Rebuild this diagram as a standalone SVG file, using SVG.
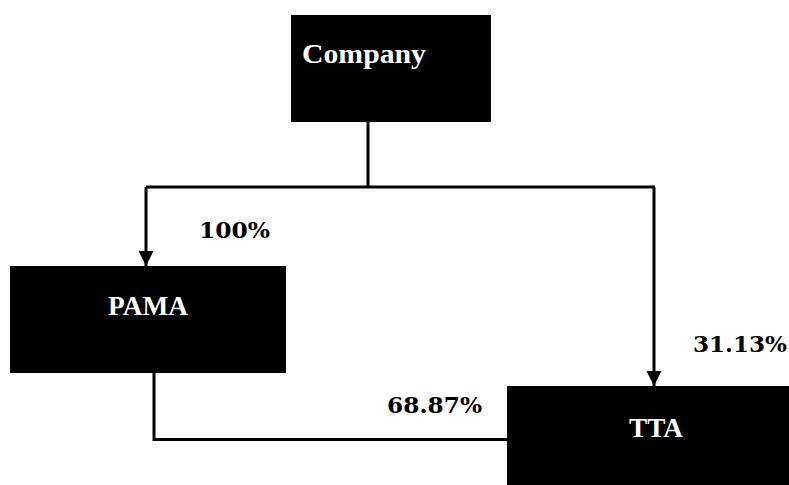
<svg xmlns="http://www.w3.org/2000/svg" width="789" height="485" viewBox="0 0 789 485">
<style>
.box{fill:#000;}
.nt{fill:#fff;font-family:"Liberation Serif","DejaVu Serif",serif;font-weight:bold;font-size:27px;}
.lb{fill:#000;font-family:"DejaVu Serif","Liberation Serif",serif;font-weight:bold;font-size:22px;}
.ln{fill:none;stroke:#000;stroke-width:3;}
</style>
<defs>
<marker id="ah" markerUnits="userSpaceOnUse" markerWidth="16" markerHeight="15" refX="15" refY="7.5" orient="auto">
<path d="M0,0 L15,7.5 L0,15 Z" fill="#000"/>
</marker>
</defs>
<rect width="789" height="485" fill="#fff"/>
<g id="connectors">
<path class="ln" d="M368,122 V187"/>
<path class="ln" d="M146,187 H655"/>
<path class="ln" d="M146,187 V266" marker-end="url(#ah)"/>
<path class="ln" d="M654,187 V386" marker-end="url(#ah)"/>
<path class="ln" d="M154,373 V439.5 H507"/>
</g>
<g id="company">
<rect class="box" x="291" y="15" width="200" height="107"/>
<text class="nt" x="302" y="63" font-size="30" textLength="124" lengthAdjust="spacingAndGlyphs">Company</text>
</g>
<g id="pama">
<rect class="box" x="10" y="266" width="276" height="107"/>
<text class="nt" x="148" y="315" font-size="26" text-anchor="middle" textLength="80" lengthAdjust="spacingAndGlyphs">PAMA</text>
</g>
<g id="tta">
<rect class="box" x="507" y="386" width="282" height="99"/>
<text class="nt" x="656" y="437" font-size="27" text-anchor="middle" textLength="54" lengthAdjust="spacingAndGlyphs">TTA</text>
</g>
<g id="labels">
<text class="lb" x="199" y="238" textLength="71" lengthAdjust="spacingAndGlyphs">100%</text>
<text class="lb" x="693" y="352" textLength="94" lengthAdjust="spacingAndGlyphs">31.13%</text>
<text class="lb" x="387" y="413" textLength="95" lengthAdjust="spacingAndGlyphs">68.87%</text>
</g>
</svg>
